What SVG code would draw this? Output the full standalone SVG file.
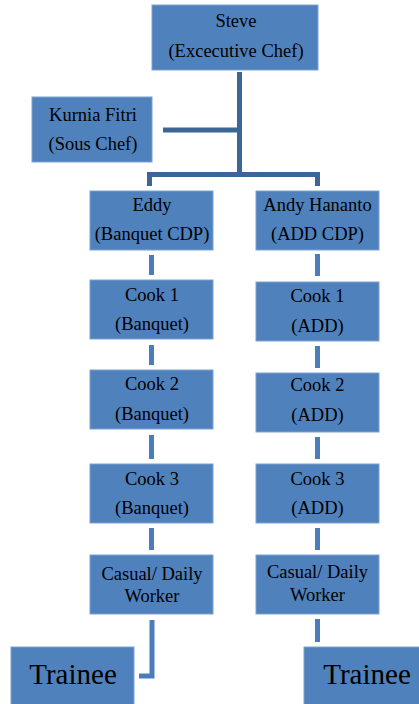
<svg xmlns="http://www.w3.org/2000/svg" width="419" height="704" viewBox="0 0 419 704">
<style>
.box{fill:#4f81bd;stroke:#7da2d0;stroke-width:1}
.t{font-size:18.5px;fill:#000;text-anchor:middle}
.big{font-size:29px}
.c1{stroke:#3b6697;stroke-width:5;fill:none}
.c2{stroke:#4a7ebb;stroke-width:5;fill:none}
</style>
<rect width="419" height="704" fill="#fff"/>
<g id="connectors">
<path class="c1" d="M239.5 72V175M163 130H239.5M149.5 186V174.5H317.5V186"/>
<path class="c2" d="M151.5 255V275M151.5 345V365M151.5 435V459M151.5 528V550M152 620V676H139"/>
<path class="c2" d="M317.5 254V276M317.5 346V368M317.5 437V459M317.5 528V550M317.5 619V642"/>
</g>
<g id="nodes" font-family="Liberation Serif, Times New Roman, serif">
<g id="steve"><rect class="box" x="152" y="5" width="166" height="65"/><text class="t" x="236" y="27">Steve</text><text class="t" x="236" y="57">(Excecutive Chef)</text></g>
<g id="kurnia"><rect class="box" x="32" y="97" width="120" height="65"/><text class="t" x="93" y="121">Kurnia Fitri</text><text class="t" x="93" y="150">(Sous Chef)</text></g>
<g id="eddy"><rect class="box" x="90" y="191" width="123" height="59"/><text class="t" x="152" y="211">Eddy</text><text class="t" x="152" y="240">(Banquet CDP)</text></g>
<g id="andy"><rect class="box" x="256" y="191" width="123" height="59"/><text class="t" x="317.5" y="211">Andy Hananto</text><text class="t" x="317.5" y="240">(ADD CDP)</text></g>
<g id="cook1b"><rect class="box" x="90" y="280" width="123" height="59"/><text class="t" x="152" y="301">Cook 1</text><text class="t" x="152" y="330">(Banquet)</text></g>
<g id="cook1a"><rect class="box" x="256" y="282" width="123" height="59"/><text class="t" x="317.5" y="302">Cook 1</text><text class="t" x="317.5" y="332">(ADD)</text></g>
<g id="cook2b"><rect class="box" x="90" y="370" width="123" height="59"/><text class="t" x="152" y="390">Cook 2</text><text class="t" x="152" y="420">(Banquet)</text></g>
<g id="cook2a"><rect class="box" x="256" y="373" width="123" height="59"/><text class="t" x="317.5" y="391">Cook 2</text><text class="t" x="317.5" y="421">(ADD)</text></g>
<g id="cook3b"><rect class="box" x="90" y="464" width="123" height="59"/><text class="t" x="152" y="485">Cook 3</text><text class="t" x="152" y="514">(Banquet)</text></g>
<g id="cook3a"><rect class="box" x="256" y="464" width="123" height="59"/><text class="t" x="317.5" y="485">Cook 3</text><text class="t" x="317.5" y="514">(ADD)</text></g>
<g id="casualb"><rect class="box" x="90" y="555" width="123" height="59"/><text class="t" x="152" y="580">Casual/ Daily</text><text class="t" x="152" y="602">Worker</text></g>
<g id="casuala"><rect class="box" x="256" y="555" width="123" height="59"/><text class="t" x="317.5" y="578">Casual/ Daily</text><text class="t" x="317.5" y="601">Worker</text></g>
<g id="traineeb"><rect class="box" x="11" y="647" width="123" height="62"/><text class="t big" x="73" y="684">Trainee</text></g>
<g id="traineea"><rect class="box" x="304" y="647" width="120" height="62"/><text class="t big" x="367" y="684">Trainee</text></g>
</g>
</svg>
